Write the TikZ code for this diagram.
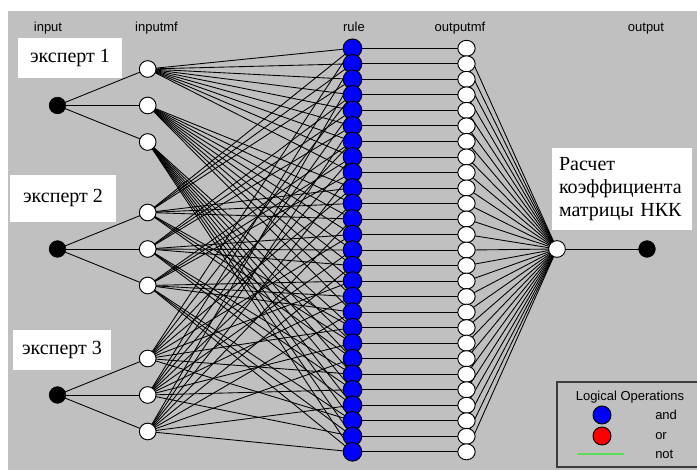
\documentclass[tikz,border=0pt]{standalone}
\usepackage{fontspec}
\setmainfont{Liberation Serif}
\newfontfamily\arialf{Liberation Sans}
\usetikzlibrary{shapes.geometric}
\definecolor{bggray}{RGB}{192,192,192}
\definecolor{rulblue}{RGB}{0,0,255}
\definecolor{legred}{RGB}{255,0,0}
\definecolor{leggreen}{RGB}{90,220,90}
\definecolor{legframe}{RGB}{60,60,60}
\pgfdeclarelayer{bg}
\pgfdeclarelayer{edges}
\pgfsetlayers{bg,edges,main}
\begin{document}
\begin{tikzpicture}[x=0.75pt,y=-0.75pt,
  wire/.style={black,line width=0.65pt},
  innode/.style={circle,draw=black,fill=black,inner sep=0pt,minimum size=12.5pt},
  mfnode/.style={circle,draw=black,fill=white,line width=0.7pt,inner sep=0pt,minimum size=12.5pt},
  rulenode/.style={circle,draw=black,fill=rulblue,line width=0.7pt,inner sep=0pt,minimum size=14pt},
  redleg/.style={circle,draw=black,fill=legred,line width=0.7pt,inner sep=0pt,minimum size=13.5pt},
  blueleg/.style={circle,draw=black,fill=rulblue,line width=0.7pt,inner sep=0pt,minimum size=13.5pt},
  omfnode/.style={ellipse,draw=black,fill=white,line width=0.7pt,inner sep=0pt,minimum width=13pt,minimum height=12pt},
  lbl/.style={font=\arialf\fontsize{9.75pt}{11pt}\selectfont,inner sep=0pt},
  tbox/.style={fill=white,inner sep=0pt,font=\fontsize{15pt}{17.25pt}\selectfont}
]
\useasboundingbox (0,0) rectangle (697,470);
\begin{pgfonlayer}{bg}
\fill[bggray] (8,11) rectangle (697,470);
\end{pgfonlayer}

% column labels
\node[lbl,anchor=base] (lin) at (48,31.5) {input};
\node[lbl,anchor=base] (linmf) at (156.5,31.5) {inputmf};
\node[lbl,anchor=base] (lrule) at (354,31.5) {rule};
\node[lbl,anchor=base] (lomf) at (460,31.5) {outputmf};
\node[lbl,anchor=base] (lout) at (646,31.5) {output};

% inputs and input mfs
\foreach \i/\y in {1/105.5,2/249,3/395}{
  \node[innode] (in\i) at (57.5,\y) {};
  \foreach \m in {1,2,3}{
    \node[mfnode] (mf\i\m) at (147.7,{\y+(\m-2)*36.5}) {};
  }
}

% rules and output mfs
\foreach \k in {1,...,27}{
  \node[rulenode] (r\k) at (352.5,{48.3+(\k-1)*15.52}) {};
}
\foreach \k in {1,...,27}{
  \node[omfnode] (o\k) at (466.5,{48.3+(\k-1)*15.52}) {};
}

\node[mfnode] (sum) at (557,249) {};
\node[innode] (out) at (647,249) {};

% edges
\begin{pgfonlayer}{edges}
\foreach \i in {1,2,3}{
  \foreach \m in {1,2,3}{
    \draw[wire] (in\i.center) -- (mf\i\m.center);
  }
}
\foreach \k in {0,...,26}{
  \pgfmathtruncatemacro\ka{floor(\k/9)+1}
  \pgfmathtruncatemacro\kb{mod(floor(\k/3),3)+1}
  \pgfmathtruncatemacro\kc{mod(\k,3)+1}
  \pgfmathtruncatemacro\kk{\k+1}
  \draw[wire] (mf1\ka.center) -- (r\kk.center);
  \draw[wire] (mf2\kb.center) -- (r\kk.center);
  \draw[wire] (mf3\kc.center) -- (r\kk.center);
  \draw[wire] (r\kk.center) -- (o\kk.center);
  \draw[wire] (o\kk.center) -- (sum.center);
}
\draw[wire] (sum.center) -- (out.center);
\end{pgfonlayer}

% expert boxes
\node[tbox,minimum width=78pt,minimum height=30pt] (e1) at (70,58) {эксперт 1};
\node[tbox,minimum width=79.5pt,minimum height=35.25pt] (e2) at (63,198.5) {эксперт 2};
\node[tbox,minimum width=73.5pt,minimum height=30pt] (e3) at (62,350) {эксперт 3};

\node[fill=white,inner xsep=5.25pt,inner ysep=0pt,text width=94.5pt,minimum height=61.5pt,align=left,
  font=\fontsize{15pt}{17.25pt}\selectfont] (calc) at (622,189) {Расчет\\коэффициента\\матрицы НКК};

% legend
\draw[legframe,line width=0.8pt] (557,382) rectangle (702,467);
\node[lbl,anchor=base] (legt) at (630,401) {Logical Operations};
\node[blueleg] (lgand) at (602,415) {};
\node[redleg] (lgor) at (602,436) {};
\coordinate (g1) at (578,454);
\coordinate (g2) at (624,454);
\draw[leggreen,line width=1pt] (g1) -- (g2);
\node[lbl,anchor=base west] (tand) at (655,419.5) {and};
\node[lbl,anchor=base west] (tor) at (655,440) {or};
\node[lbl,anchor=base west] (tnot) at (655,459) {not};
\end{tikzpicture}
\end{document}
